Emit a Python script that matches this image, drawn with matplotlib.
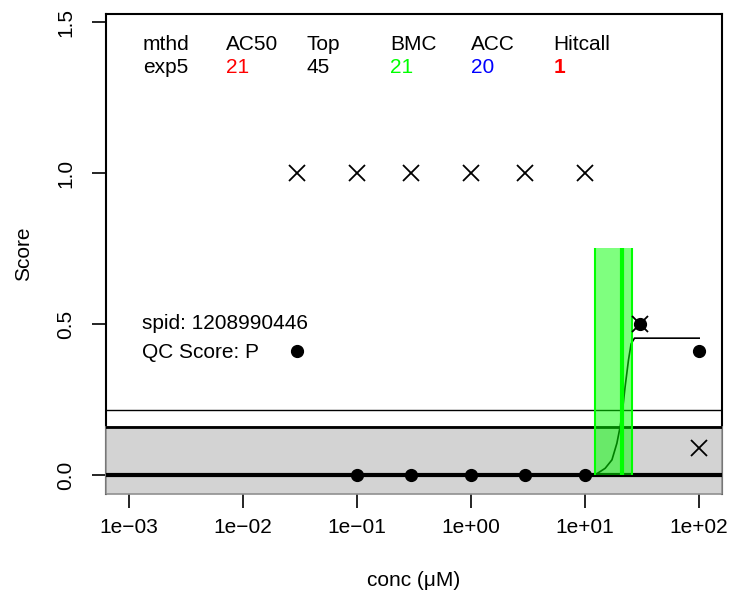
import numpy as np
import matplotlib.pyplot as plt
import matplotlib.transforms as mtransforms
from matplotlib.patches import Rectangle

plt.rcParams['font.family'] = ['Liberation Sans', 'DejaVu Sans']

# observed points (filled circles)
conc = [0.03, 0.1, 0.3, 1, 3, 10, 30, 100]
resp = [0.41, 0, 0, 0, 0, 0, 0.5, 0.41]
# cross markers
x_conc = [0.03, 0.1, 0.3, 1, 3, 10, 30, 100]
x_resp = [1, 1, 1, 1, 1, 1, 0.5, 0.09]

# fitted exp5 curve
fit_conc = [0.03, 10, 12.2, 15.0, 17.2, 19.0, 20.3, 21.3, 22.4, 24.0, 25.3, 27.1, 100]
fit_resp = [0, 0, 0.0, 0.022, 0.05, 0.105, 0.16, 0.215, 0.29, 0.38, 0.434, 0.453, 0.453]

bmc = 21
bmdl, bmdu = 12.2, 25.8
bmd_top = 0.75
cutoff = 0.159
bmad_line = 0.215

hdr_names = ['mthd', 'AC50', 'Top', 'BMC', 'ACC', 'Hitcall']
hdr_vals = ['exp5', '21', '45', '21', '20', '1']
hdr_cols = ['black', 'red', 'black', '#00ff00', 'blue', 'red']
hdr_x = [0.060, 0.195, 0.326, 0.461, 0.593, 0.726]

spid = '1208990446'
qc = 'P'

fs = 15

fig = plt.figure(figsize=(7.3, 5.94), dpi=100)
ax = fig.add_axes([0.1452, 0.1684, 0.8438, 0.808])
ax.set_xscale('log')
xlo, xhi = 10 ** -3.2, 10 ** 2.2
ax.set_xlim(xlo, xhi)
ax.set_ylim(-0.063, 1.5265)

# grey band below cutoff
ylo = ax.get_ylim()[0]
ax.add_patch(Rectangle((xlo, ylo), xhi - xlo, cutoff - ylo,
                       facecolor='lightgray', edgecolor='#909090', lw=1.2,
                       zorder=2, clip_on=False))
ax.axhline(0, color='black', lw=3, zorder=3)
ax.axhline(cutoff, color='black', lw=2, zorder=3)
ax.axhline(bmad_line, color='black', lw=1, zorder=3)

ax.plot(fit_conc, fit_resp, color='black', lw=1.2, zorder=4)

# BMD interval + BMC
ax.add_patch(Rectangle((bmdl, 0), bmdu - bmdl, bmd_top, facecolor=(0, 1, 0, 0.5),
                       edgecolor='none', zorder=5))
ax.vlines([bmdl, bmdu], 0, bmd_top, color='#00ff00', lw=1.5, zorder=5)
ax.vlines([bmc], 0, bmd_top, color='#00ff00', lw=3, zorder=5)

ax.plot(conc, resp, 'o', color='black', ms=8.5, zorder=6)
ax.plot(x_conc, x_resp, 'x', color='black', ms=11, mew=1.3, zorder=6)

blend = mtransforms.blended_transform_factory(ax.transAxes, ax.transData)
for nm, v, c, xx in zip(hdr_names, hdr_vals, hdr_cols, hdr_x):
    ax.text(xx, 1.424, nm, transform=blend, fontsize=fs, va='center', ha='left')
    ax.text(xx, 1.348, v, transform=blend, fontsize=fs, va='center', ha='left', color=c,
            fontweight='bold' if nm == 'Hitcall' else 'normal')

ax.text(0.058, 0.5, 'spid: ' + spid, transform=blend, fontsize=fs, va='center')
ax.text(0.058, 0.407, 'QC Score: ' + qc, transform=blend, fontsize=fs, va='center')

for s in ['top', 'left', 'right']:
    ax.spines[s].set_linewidth(1.5)
    ax.spines[s].set_zorder(1)
ax.spines['bottom'].set_visible(False)

ax.set_xticks([1e-3, 1e-2, 1e-1, 1, 10, 100])
ax.set_xticklabels(['1e\u221203', '1e\u221202', '1e\u221201', '1e+00', '1e+01', '1e+02'])
ax.xaxis.set_minor_locator(plt.NullLocator())
ax.set_yticks([0, 0.5, 1.0, 1.5])
ax.set_yticklabels(['0.0', '0.5', '1.0', '1.5'], rotation=90, va='center')
ax.tick_params(axis='both', labelsize=fs, length=10, width=1.2)
ax.tick_params(axis='x', pad=7)
ax.tick_params(axis='y', pad=12)

ax.set_xlabel('conc (\u03bcM)', fontsize=fs, labelpad=25)
ax.set_ylabel('Score', fontsize=fs, labelpad=17)

fig.savefig('out.png', dpi=100)
